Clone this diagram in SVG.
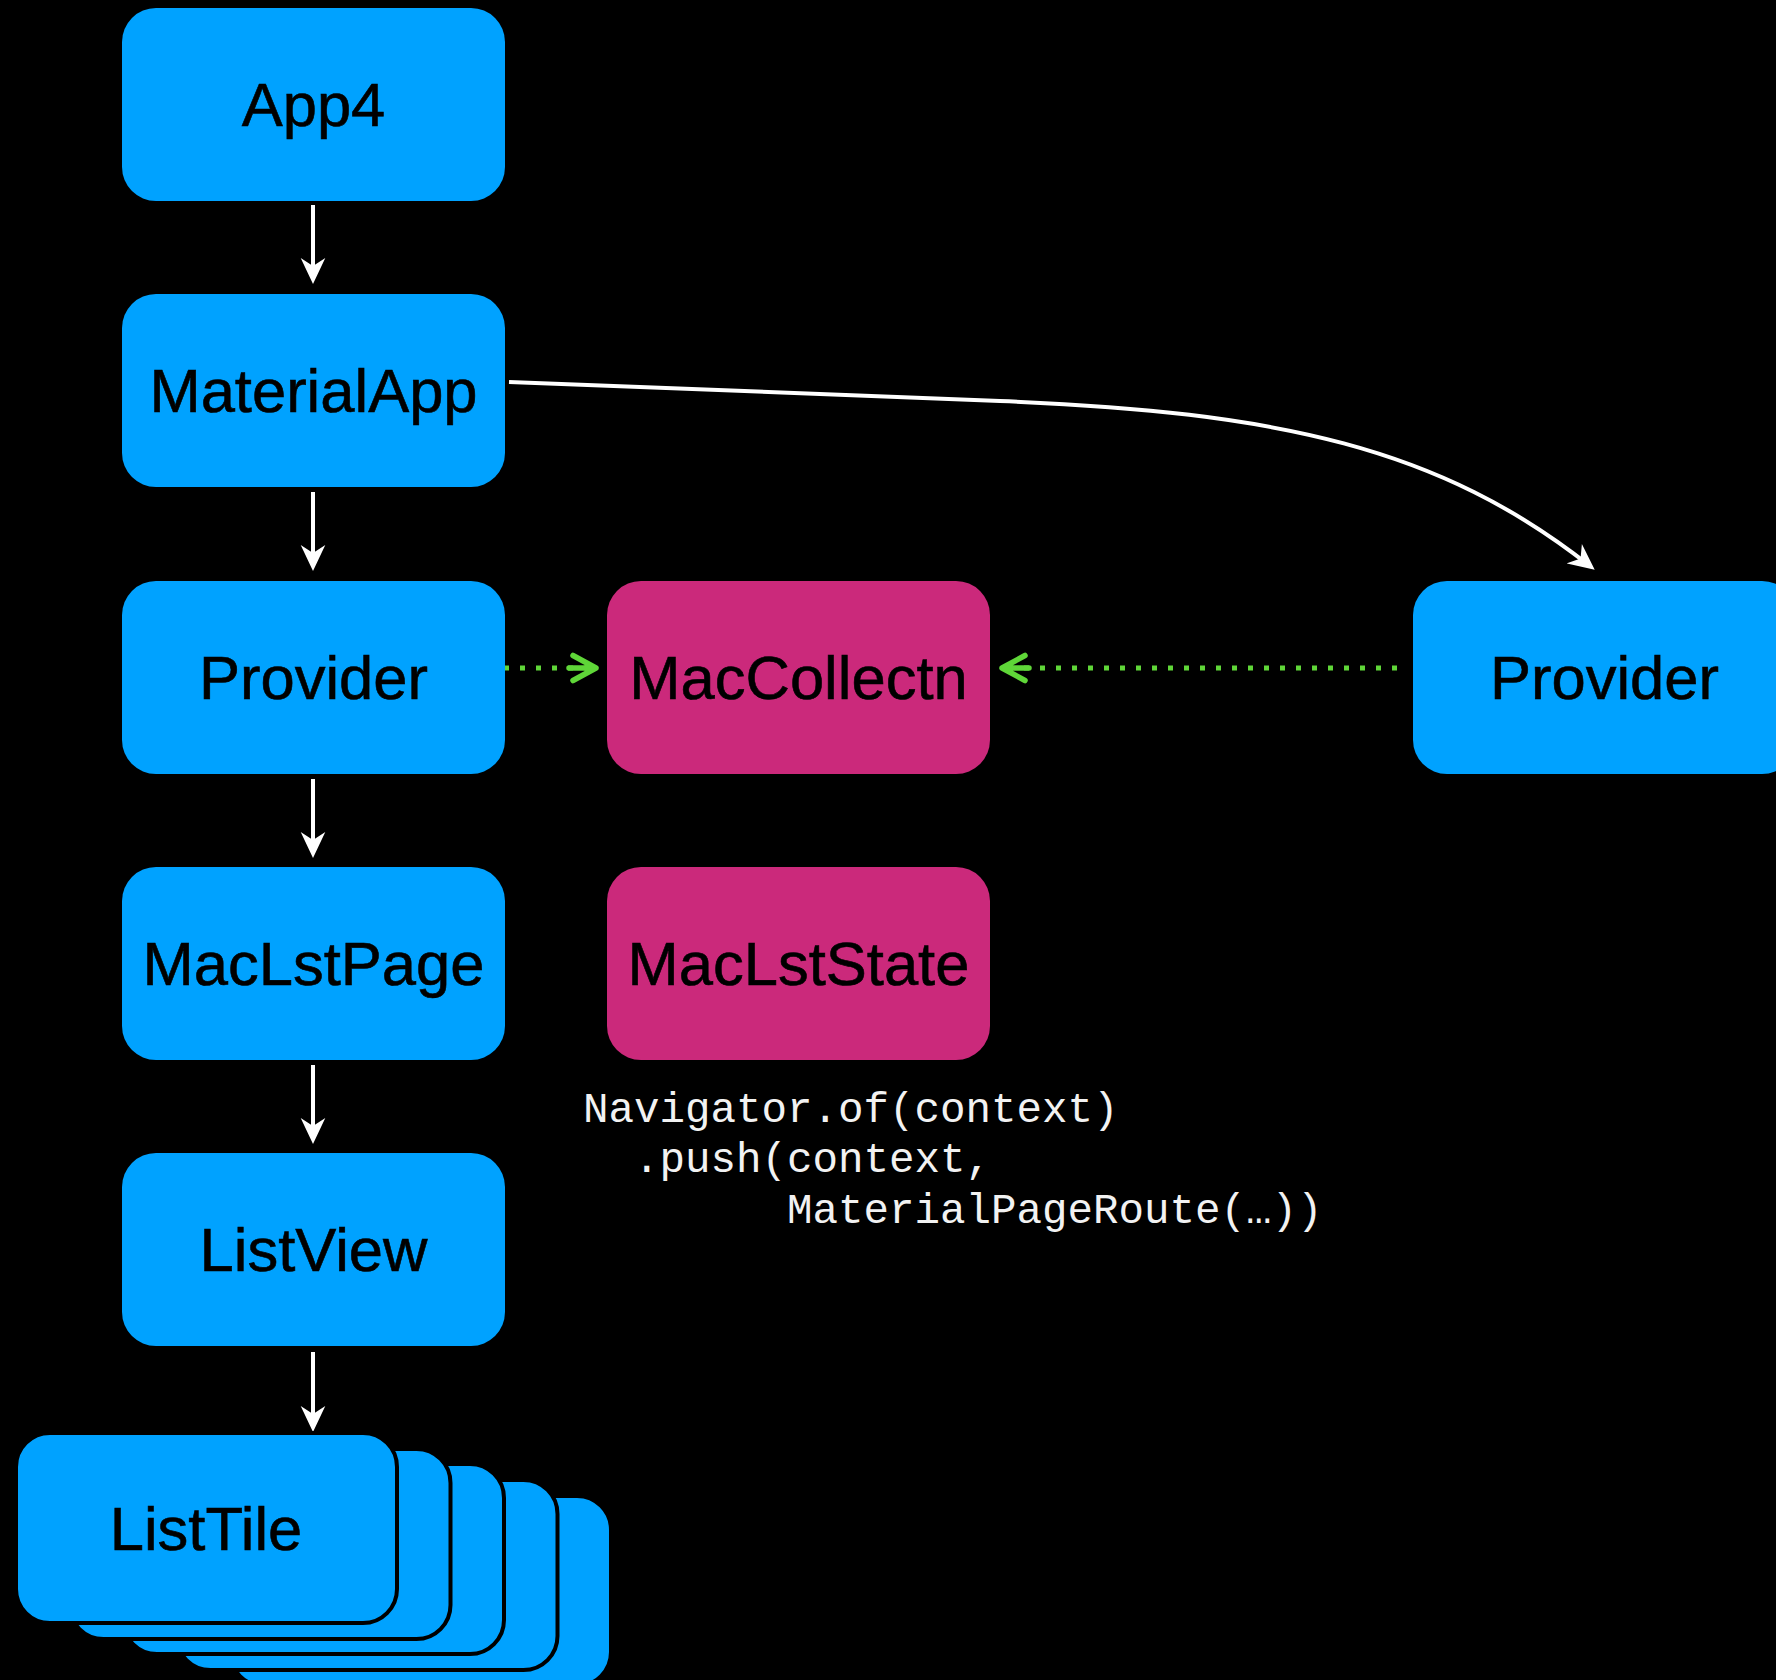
<svg xmlns="http://www.w3.org/2000/svg" width="1776" height="1680" viewBox="0 0 1776 1680">
  <style>
    .blue { fill: #00A2FF; }
    .pink { fill: #CB297B; }
    .tile { fill: #00A2FF; stroke: #000; stroke-width: 4; }
    .label { font-family: "Liberation Sans", Arial, Helvetica, sans-serif; font-size: 61.5px; fill: #000; text-anchor: middle; stroke: #000; stroke-width: 0.6px; }
    .code { font-family: "Liberation Mono", "Courier New", monospace; font-size: 42.5px; fill: #F2F2F2; }
    .edge { fill: none; stroke: #FFF; stroke-width: 4; }
    .dotted { fill: none; stroke: #5FD638; stroke-width: 5; stroke-dasharray: 5 11; }
  </style>
  <defs>
    <!-- solid white arrowhead with notched back; tip sits 6px past the path end -->
    <marker id="arrow-white" markerUnits="userSpaceOnUse" viewBox="0 0 26 26" markerWidth="26" markerHeight="26" refX="20" refY="13" orient="auto">
      <path d="M0,0.7 L26,13 L0,25.3 L8,13 Z" fill="#FFF"/>
    </marker>
    <!-- open green chevron with a short solid shaft -->
    <marker id="arrow-green" markerUnits="userSpaceOnUse" viewBox="-30 -16 34 32" markerWidth="34" markerHeight="32" refX="0" refY="0" orient="auto">
      <path d="M-23,-12.5 L0,0 L-23,12.5 M-27,0 L0,0" fill="none" stroke="#5FD638" stroke-width="5.5" stroke-linejoin="round" stroke-linecap="round"/>
    </marker>
  </defs>

  <rect width="1776" height="1680" fill="#000"/>

  <!-- connectors -->
  <g id="connectors">
    <path class="edge" d="M313,205 L313,278" marker-end="url(#arrow-white)"/>
    <path class="edge" d="M313,492 L313,565" marker-end="url(#arrow-white)"/>
    <path class="edge" d="M313,779 L313,852" marker-end="url(#arrow-white)"/>
    <path class="edge" d="M313,1065 L313,1138" marker-end="url(#arrow-white)"/>
    <path class="edge" d="M313,1352 L313,1426" marker-end="url(#arrow-white)"/>
    <path class="edge" d="M509,382 L1000,401 C1280,412 1440,448 1590,566" marker-end="url(#arrow-white)"/>
    <path class="dotted" d="M504,668 L596,668" marker-end="url(#arrow-green)"/>
    <path class="dotted" d="M1397,668 L1002,668" marker-end="url(#arrow-green)"/>
  </g>

  <!-- widget tree -->
  <g id="node-app4">
    <rect class="blue" x="122" y="8" width="383" height="193" rx="34"/>
    <text class="label" x="313.5" y="126">App4</text>
  </g>
  <g id="node-materialapp">
    <rect class="blue" x="122" y="294" width="383" height="193" rx="34"/>
    <text class="label" x="313.5" y="412">MaterialApp</text>
  </g>
  <g id="node-provider">
    <rect class="blue" x="122" y="581" width="383" height="193" rx="34"/>
    <text class="label" x="313.5" y="699">Provider</text>
  </g>
  <g id="node-maclstpage">
    <rect class="blue" x="122" y="867" width="383" height="193" rx="34"/>
    <text class="label" x="313.5" y="985">MacLstPage</text>
  </g>
  <g id="node-listview">
    <rect class="blue" x="122" y="1153" width="383" height="193" rx="34"/>
    <text class="label" x="313.5" y="1271">ListView</text>
  </g>

  <!-- stacked list tiles, back to front -->
  <g id="node-listtile">
    <rect class="tile" x="230" y="1496" width="381" height="190" rx="34"/>
    <rect class="tile" x="176.5" y="1480" width="381" height="190" rx="34"/>
    <rect class="tile" x="123" y="1464" width="381" height="190" rx="34"/>
    <rect class="tile" x="69.5" y="1449" width="381" height="190" rx="34"/>
    <rect class="tile" x="16" y="1433" width="381" height="190" rx="34"/>
    <text class="label" x="206" y="1550">ListTile</text>
  </g>

  <!-- state objects -->
  <g id="node-maccollectn">
    <rect class="pink" x="607" y="581" width="383" height="193" rx="34"/>
    <text class="label" x="798.5" y="699">MacCollectn</text>
  </g>
  <g id="node-maclststate">
    <rect class="pink" x="607" y="867" width="383" height="193" rx="34"/>
    <text class="label" x="798.5" y="985">MacLstState</text>
  </g>

  <!-- provider on the pushed route -->
  <g id="node-provider-route">
    <rect class="blue" x="1413" y="581" width="383" height="193" rx="34"/>
    <text class="label" x="1604.5" y="699">Provider</text>
  </g>

  <!-- navigation call -->
  <g id="code-navigator">
    <text class="code" x="583" y="1121.5">Navigator.of(context)</text>
    <text class="code" x="634" y="1172">.push(context,</text>
    <text class="code" x="787" y="1222.5">MaterialPageRoute(…))</text>
  </g>
</svg>
